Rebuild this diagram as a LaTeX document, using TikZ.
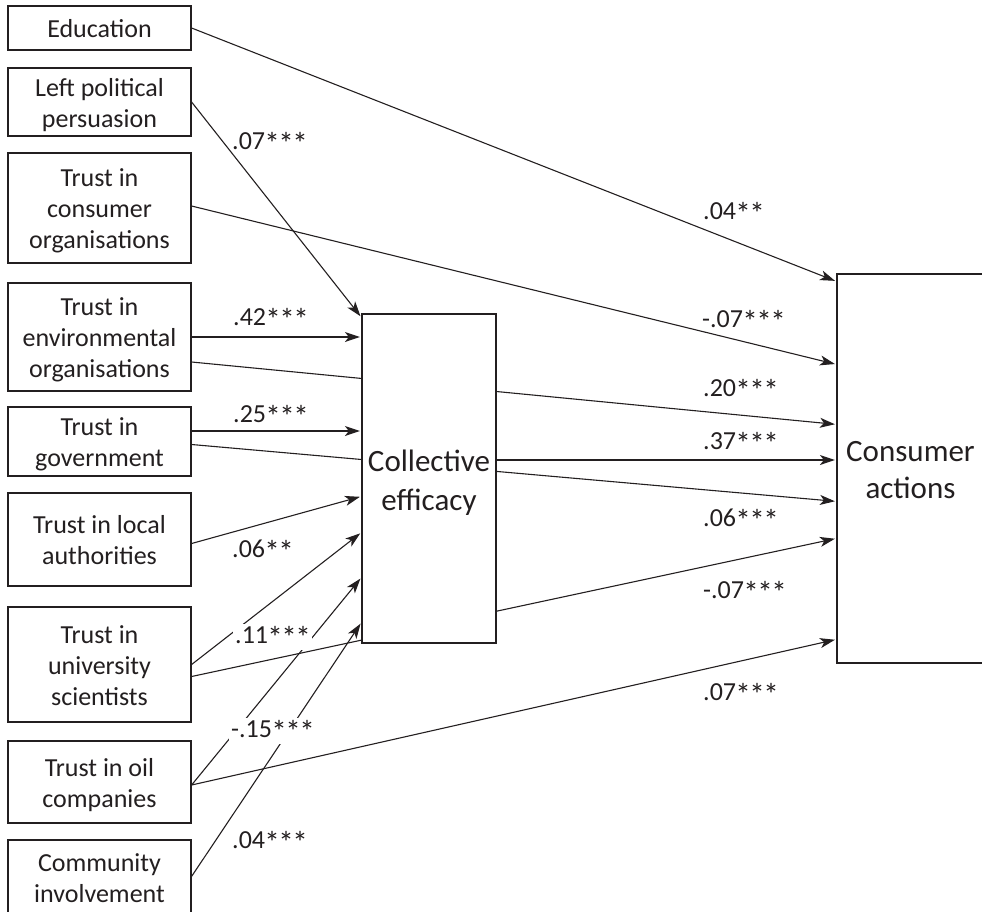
\documentclass[tikz,border=0pt]{standalone}
\usepackage{fontspec}
\usepackage{graphicx}
\setmainfont{Carlito}
\usetikzlibrary{arrows.meta}
\pgfdeclarelayer{bg}
\pgfsetlayers{bg,main}
\definecolor{ink}{RGB}{35,31,32}
\newcommand\sigst{\makebox[14pt]{\raisebox{-5pt}{\scalebox{1.2}{*}}}}
\newcommand\ls{\rule[-5.8pt]{0pt}{31pt}}
\newcommand\ces{\rule[-7.5pt]{0pt}{39pt}}
\newcommand\cas{\rule[-7pt]{0pt}{37pt}}
\begin{document}
\begin{tikzpicture}[x=1pt,y=-1pt,
  lbox/.style={draw=ink, line width=1.2pt, fill=white, minimum width=183pt, inner sep=0pt, align=center, font=\fontsize{26}{31}\selectfont, text=ink},
  bbox/.style={draw=ink, line width=1.2pt, fill=white, inner sep=0pt, align=center, text=ink},
  conn/.style={draw=ink, line width=1.1pt, -{Stealth[length=15pt,width=10pt,inset=4pt]}, shorten >=1.5pt},
  lab/.style={font=\fontsize{26}{31}\selectfont, text=ink, anchor=base west, inner sep=0pt},
  labw/.style={lab, fill=white, inner sep=2pt}]
\useasboundingbox (0,0) rectangle (982,911);
\clip (0,0) rectangle (982,911);

% left boxes
\node[lbox, minimum height=44pt]  (edu) at (99.5,28)    {\ls Education\ls};
\node[lbox, minimum height=68pt]  (lpp) at (99.5,102)   {\ls Left political\\persuasion\ls};
\node[lbox, minimum height=110pt] (tco) at (99.5,208)   {\ls Trust in\\consumer\\organisations\ls};
\node[lbox, minimum height=108pt] (teo) at (99.5,337)   {\ls Trust in\\environmental\\organisations\ls};
\node[lbox, minimum height=69pt]  (tg)  at (99.5,441.5) {\ls Trust in\\government\ls};
\node[lbox, minimum height=93pt]  (tla) at (99.5,539.5) {\ls Trust in local\\authorities\ls};
\node[lbox, minimum height=115pt] (tus) at (99.5,664.5) {\ls Trust in\\university\\scientists\ls};
\node[lbox, minimum height=82pt]  (toc) at (99.5,782)   {\ls Trust in oil\\companies\ls};
\node[lbox, minimum height=74pt]  (ci)  at (99.5,877)   {\ls Community\\involvement\ls};

% central and right boxes
\node[bbox, minimum width=134pt, minimum height=329pt, font=\fontsize{31}{39}\selectfont] (ce) at (429,478.5) {\ces Collective\\efficacy\ces};
\node[bbox, minimum width=147pt, minimum height=389pt, font=\fontsize{31}{37}\selectfont] (ca) at (910.5,468.5) {\cas Consumer\\actions\cas};

% lines passing behind the collective efficacy box
\begin{pgfonlayer}{bg}
\draw[conn] ([yshift=-25pt]teo.east) -- ([yshift=-151pt]ca.north west);
\draw[conn] ([yshift=-3pt]tg.east) -- ([yshift=-228pt]ca.north west);
\draw[conn] ([yshift=-12pt]tus.east) -- ([yshift=-265pt]ca.north west);
\end{pgfonlayer}

% paths to consumer actions
\draw[conn] (edu.east) -- ([yshift=-8pt]ca.north west);
\draw[conn] ([yshift=2pt]tco.east) -- ([yshift=-91pt]ca.north west);
\draw[conn] ([yshift=18.5pt]ce.east) -- ([yshift=18.5pt]ce.east -| ca.west);
\draw[conn] ([yshift=-3pt]toc.east) -- ([yshift=-366pt]ca.north west);

% paths to collective efficacy
\draw[conn] (lpp.east) -- ([yshift=-4pt]ce.north west);
\draw[conn] (teo.east) -- (teo.east -| ce.west);
\draw[conn] ([yshift=10.5pt]tg.east) -- ([yshift=10.5pt]tg.east -| ce.west);
\draw[conn] ([yshift=-4pt]tla.east) -- ([yshift=-183pt]ce.north west);
\draw[conn] (tus.east) -- ([yshift=-219pt]ce.north west);
\draw[conn] ([yshift=-3pt]toc.east) -- ([yshift=-264pt]ce.north west);
\draw[conn] ([yshift=-37pt]ci.north east) -- ([yshift=-309pt]ce.north west);

% labels
\node[lab]  (l1)  at (703,219) {.04\sigst\sigst};
\node[lab]  (l2)  at (232,149) {.07\sigst\sigst\sigst};
\node[lab]  (l3)  at (702,327) {-.07\sigst\sigst\sigst};
\node[lab]  (l4)  at (233,325) {.42\sigst\sigst\sigst};
\node[lab]  (l5)  at (703,396) {.20\sigst\sigst\sigst};
\node[lab]  (l6)  at (233,422) {.25\sigst\sigst\sigst};
\node[lab]  (l7)  at (703,449) {.37\sigst\sigst\sigst};
\node[lab]  (l8)  at (703,526) {.06\sigst\sigst\sigst};
\node[labw] (l9)  at (230,557) {.06\sigst\sigst};
\node[lab]  (l10) at (703,598) {-.07\sigst\sigst\sigst};
\node[labw] (l11) at (233,643) {.11\sigst\sigst\sigst};
\node[labw] (l12) at (229,737) {-.15\sigst\sigst\sigst};
\node[lab]  (l13) at (703,700) {.07\sigst\sigst\sigst};
\node[labw] (l14) at (230,848) {.04\sigst\sigst\sigst};
\end{tikzpicture}
\end{document}
